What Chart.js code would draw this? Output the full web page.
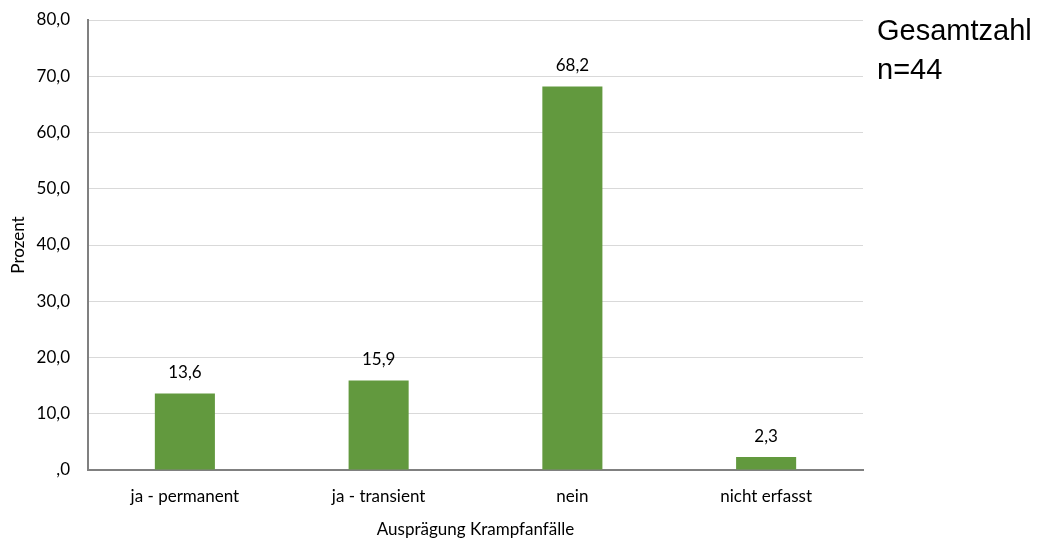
<!DOCTYPE html>
<html>
<head>
<meta charset="utf-8">
<script src="https://cdn.jsdelivr.net/npm/chart.js@4"></script>
<style>
  html, body { margin: 0; padding: 0; background: #fff; }
  #wrap { width: 1037px; height: 540px; }
</style>
</head>
<body>
<div id="wrap"><canvas id="grafica" width="1037" height="540"></canvas></div>
<script>
const kategorien = ['ja - permanent', 'ja - transient', 'nein', 'nicht erfasst'];
const prozent = [13.6, 15.9, 68.2, 2.3];
const hinweis = ['Gesamtzahl', 'n=44'];

const komma = v => {
    const s = Number(v).toFixed(1).replace('.', ',');
    return s.startsWith('0,') ? s.slice(1) : s;
};

// Werte über den Balken
const wertePlugin = {
    id: 'werte',
    afterDatasetsDraw(chart) {
        const ctx = chart.ctx;
        ctx.save();
        ctx.font = '17px Lato';
        ctx.fillStyle = '#000';
        ctx.textAlign = 'center';
        ctx.textBaseline = 'middle';
        chart.getDatasetMeta(0).data.forEach((bar, i) => {
            ctx.fillText(komma(prozent[i]), bar.x, bar.y - 21);
        });
        ctx.restore();
    }
};

// Text rechts oben
const hinweisPlugin = {
    id: 'hinweis',
    afterDraw(chart) {
        const ctx = chart.ctx;
        ctx.save();
        ctx.font = '29px "Liberation Sans"';
        ctx.fillStyle = '#000';
        ctx.textAlign = 'left';
        ctx.textBaseline = 'alphabetic';
        hinweis.forEach((t, i) => ctx.fillText(t, 877, 40 + i * 39));
        ctx.restore();
    }
};

document.addEventListener('DOMContentLoaded', function () {
    const ctx = document.getElementById('grafica').getContext('2d');
    new Chart(ctx, {
        type: 'bar',
        data: {
            labels: kategorien,
            datasets: [{
                data: prozent,
                backgroundColor: '#62993e',
                barPercentage: 0.31,
                categoryPercentage: 1
            }]
        },
        options: {
            responsive: false,
            animation: false,
            layout: { autoPadding: false, padding: { top: 20, right: 174, left: 0, bottom: 0 } },
            plugins: {
                legend: { display: false },
                tooltip: { enabled: false }
            },
            scales: {
                x: {
                    grid: { display: false },
                    border: { color: '#808080', width: 2 },
                    ticks: { color: '#000', font: { family: 'Lato', size: 17 }, padding: 8 },
                    title: {
                        display: true,
                        text: 'Ausprägung Krampfanfälle',
                        color: '#000',
                        font: { family: 'Lato', size: 17 },
                        padding: { top: 8, bottom: 0 }
                    },
                    afterFit(scale) { scale.height = 70; }
                },
                y: {
                    min: 0,
                    max: 80,
                    ticks: {
                        stepSize: 10,
                        color: '#000',
                        font: { family: 'Lato', size: 17 },
                        padding: 18,
                        callback: v => komma(v)
                    },
                    grid: { color: '#d9d9d9', drawTicks: false },
                    border: { color: '#808080', width: 2 },
                    title: {
                        display: true,
                        text: 'Prozent',
                        color: '#000',
                        font: { family: 'Lato', size: 17 },
                        padding: { top: 8, bottom: 0 }
                    },
                    afterFit(scale) {
                        scale.width = 88;
                        scale.paddingTop = 0;
                        scale.paddingBottom = 0;
                    }
                }
            }
        },
        plugins: [wertePlugin, hinweisPlugin]
    });
});
</script>
</body>
</html>
